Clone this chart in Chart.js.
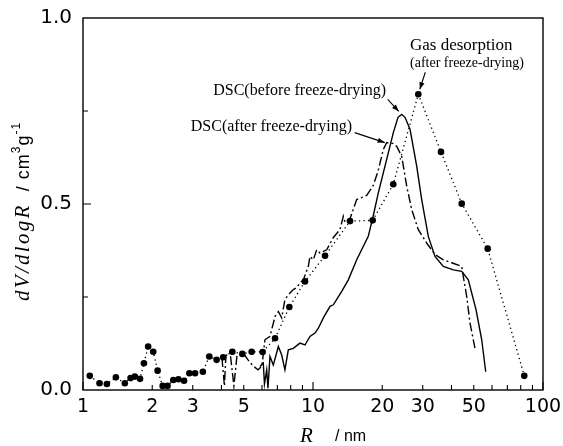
<!DOCTYPE html>
<html><head><meta charset="utf-8">
<script src="https://cdn.jsdelivr.net/npm/chart.js@4.4.0/dist/chart.umd.min.js"></script>
<style>html,body{margin:0;padding:0;background:#fff;}</style>
</head><body>
<canvas id="c" width="563" height="446"></canvas>
<script>
// ---- Data ----
const xTickValues = [1, 2, 3, 5, 10, 20, 30, 50, 100];
const yTickValues = [0.0, 0.5, 1.0];

const gasR = [1.07, 1.18, 1.27, 1.39, 1.52, 1.61, 1.68, 1.77, 1.84, 1.92, 2.02, 2.11, 2.22, 2.33, 2.47, 2.60, 2.75, 2.90, 3.07, 3.32, 3.54, 3.81, 4.07, 4.46, 4.93, 5.41, 6.04, 6.84, 7.89, 9.23, 11.28, 14.49, 18.18, 22.34, 28.70, 36.02, 44.32, 57.48, 82.9];
const gasV = [0.038, 0.018, 0.016, 0.034, 0.018, 0.032, 0.036, 0.030, 0.072, 0.117, 0.103, 0.052, 0.011, 0.011, 0.027, 0.029, 0.025, 0.045, 0.045, 0.049, 0.090, 0.081, 0.088, 0.103, 0.097, 0.103, 0.102, 0.139, 0.223, 0.292, 0.361, 0.454, 0.456, 0.553, 0.795, 0.640, 0.501, 0.380, 0.038];

const beforeR = [5.88, 6.08, 6.15, 6.29, 6.37, 6.50, 6.72, 7.07, 7.31, 7.55, 7.81, 8.21, 8.78, 9.23, 9.70, 10.20, 10.55, 11.09, 11.86, 12.26, 13.33, 14.24, 15.49, 17.39, 18.29, 19.23, 20.56, 22.35, 23.42, 24.31, 25.12, 26.41, 28.24, 29.69, 31.72, 33.92, 36.86, 40.74, 44.32, 47.34, 51.14, 54.15, 56.36];
const beforeV = [0.063, 0.072, 0.016, 0.054, 0.005, 0.090, 0.067, 0.117, 0.094, 0.054, 0.108, 0.112, 0.126, 0.121, 0.144, 0.153, 0.166, 0.194, 0.225, 0.229, 0.265, 0.296, 0.350, 0.413, 0.469, 0.530, 0.602, 0.692, 0.733, 0.741, 0.733, 0.701, 0.602, 0.512, 0.413, 0.359, 0.332, 0.323, 0.319, 0.296, 0.216, 0.135, 0.049];

const afterR = [4.02, 4.12, 4.18, 4.36, 4.53, 4.67, 4.96, 5.22, 5.48, 5.77, 6.00, 6.18, 6.50, 6.84, 7.07, 7.31, 7.55, 7.81, 8.21, 8.49, 8.78, 9.08, 9.54, 9.70, 10.03, 10.38, 10.72, 11.47, 12.26, 13.10, 13.54, 13.78, 14.49, 15.49, 17.12, 18.29, 19.17, 20.22, 20.92, 21.62, 22.27, 23.12, 24.31, 25.55, 26.86, 28.70, 31.22, 33.92, 36.86, 40.09, 44.32, 45.04, 46.60, 48.15, 50.62];
const afterV = [0.086, 0.011, 0.092, 0.102, 0.011, 0.092, 0.100, 0.081, 0.065, 0.054, 0.065, 0.135, 0.144, 0.198, 0.211, 0.194, 0.243, 0.256, 0.270, 0.275, 0.288, 0.296, 0.332, 0.359, 0.350, 0.377, 0.368, 0.377, 0.410, 0.431, 0.467, 0.450, 0.461, 0.512, 0.523, 0.550, 0.588, 0.647, 0.665, 0.663, 0.663, 0.655, 0.628, 0.548, 0.485, 0.431, 0.395, 0.364, 0.350, 0.342, 0.332, 0.305, 0.251, 0.180, 0.112];

const xMinorTicks = [2,3,4,5,6,7,8,9,20,30,40,50,60,70,80,90];
const xMajorTicks = [1,10,100];
const yMinorTicks = [0.25, 0.75];
const yMajorTicks = [0.5];

const toPts = (xs, ys) => xs.map((x, i) => ({x: x, y: ys[i]}));

const SANS = '"Liberation Sans", Arial, sans-serif';
const TICKFONT = '"DejaVu Sans", sans-serif';
const SERIF = '"Liberation Serif", "Times New Roman", serif';

function arrow(ctx, x1, y1, x2, y2) {
  ctx.beginPath(); ctx.moveTo(x1, y1); ctx.lineTo(x2, y2); ctx.stroke();
  const a = Math.atan2(y2 - y1, x2 - x1), L = 7, W = 2.6;
  ctx.beginPath();
  ctx.moveTo(x2, y2);
  ctx.lineTo(x2 - L*Math.cos(a) + W*Math.sin(a), y2 - L*Math.sin(a) - W*Math.cos(a));
  ctx.lineTo(x2 - L*Math.cos(a) - W*Math.sin(a), y2 - L*Math.sin(a) + W*Math.cos(a));
  ctx.closePath(); ctx.fill();
}

const decor = {
  id: 'decor',
  afterDraw(chart) {
    const ctx = chart.ctx, a = chart.chartArea, xs = chart.scales.x, ys = chart.scales.y;
    ctx.save();
    ctx.strokeStyle = '#000'; ctx.fillStyle = '#000';
    ctx.lineWidth = 1.4;
    ctx.strokeRect(a.left, a.top, a.right - a.left, a.bottom - a.top);
    ctx.lineWidth = 1.1;
    ctx.beginPath();
    xMajorTicks.forEach(v => { const p = xs.getPixelForValue(v); ctx.moveTo(p, a.bottom); ctx.lineTo(p, a.bottom - 8); });
    xMinorTicks.forEach(v => { const p = xs.getPixelForValue(v); ctx.moveTo(p, a.bottom); ctx.lineTo(p, a.bottom - 5); });
    yMajorTicks.forEach(v => { const p = ys.getPixelForValue(v); ctx.moveTo(a.left, p); ctx.lineTo(a.left + 8, p); });
    yMinorTicks.forEach(v => { const p = ys.getPixelForValue(v); ctx.moveTo(a.left, p); ctx.lineTo(a.left + 5, p); });
    ctx.stroke();

    // Axis titles
    ctx.textBaseline = 'middle';
    ctx.textAlign = 'left';
    // x title
    ctx.font = 'italic 21px ' + SERIF;
    ctx.fillText('R', 300, 436);
    ctx.font = '16px ' + SANS;
    ctx.fillText('/ nm', 335, 437);
    // y title (rotated)
    ctx.save();
    ctx.translate(23, 301);
    ctx.rotate(-Math.PI/2);
    ctx.font = 'italic 21px ' + SERIF;
    if ('letterSpacing' in ctx) ctx.letterSpacing = '2.3px';
    let t = 'dV/dlogR';
    ctx.fillText(t, 0, 0);
    let off = ctx.measureText(t).width + 12;
    if ('letterSpacing' in ctx) ctx.letterSpacing = '1px';
    ctx.font = '18px ' + SANS;
    ctx.fillText('/ cm', off, 1); off += ctx.measureText('/ cm').width;
    ctx.font = '12px ' + SANS;
    ctx.fillText('3', off, -6); off += ctx.measureText('3').width;
    ctx.font = '18px ' + SANS;
    ctx.fillText('g', off, 1); off += ctx.measureText('g').width;
    ctx.font = '12px ' + SANS;
    ctx.fillText('-1', off, -6);
    if ('letterSpacing' in ctx) ctx.letterSpacing = '0px';
    ctx.restore();

    // Annotations
    ctx.textAlign = 'left';
    ctx.font = '17px ' + SERIF;
    ctx.fillText('Gas desorption', 410, 46);
    ctx.font = '14px ' + SERIF;
    ctx.fillText('(after freeze-drying)', 410, 63);
    ctx.font = '16px ' + SERIF;
    ctx.textAlign = 'right';
    ctx.fillText('DSC(before freeze-drying)', 386, 91);
    ctx.fillText('DSC(after freeze-drying)', 352, 127);

    ctx.lineWidth = 1.1;
    // arrow to gas desorption peak
    const gi = gasV.indexOf(Math.max(...gasV));
    const gx = xs.getPixelForValue(gasR[gi]), gy = ys.getPixelForValue(gasV[gi]);
    arrow(ctx, gx + 7, gy - 22, gx + 1.5, gy - 5);
    // arrow to DSC(before) peak
    const bi = beforeV.indexOf(Math.max(...beforeV));
    const bx = xs.getPixelForValue(beforeR[bi]), by = ys.getPixelForValue(beforeV[bi]);
    arrow(ctx, bx - 14, by - 15, bx - 3, by - 3);
    // arrow to DSC(after) peak
    const ai = afterV.indexOf(Math.max(...afterV));
    const ax = xs.getPixelForValue(afterR[ai]), ay = ys.getPixelForValue(afterV[ai]);
    arrow(ctx, ax - 32, ay - 10, ax - 2, ay);
    ctx.restore();
  }
};

new Chart(document.getElementById('c'), {
  type: 'scatter',
  data: {
    datasets: [
      { label: 'Gas desorption (after freeze-drying)', data: toPts(gasR, gasV), showLine: true,
        borderColor: '#000', borderWidth: 1.3, borderDash: [1.3, 3.2], tension: 0,
        pointRadius: 3.3, pointBackgroundColor: '#000', pointBorderWidth: 0, pointBorderColor: '#000' },
      { label: 'DSC(before freeze-drying)', data: toPts(beforeR, beforeV), showLine: true,
        borderColor: '#000', borderWidth: 1.4, tension: 0, pointRadius: 0 },
      { label: 'DSC(after freeze-drying)', data: toPts(afterR, afterV), showLine: true,
        borderColor: '#000', borderWidth: 1.4, borderDash: [9, 3, 2, 3], tension: 0, pointRadius: 0 }
    ]
  },
  options: {
    responsive: false, animation: false, devicePixelRatio: 1,
    layout: { padding: { left: 0, right: 20, top: 18, bottom: 0 } },
    plugins: { legend: { display: false }, tooltip: { enabled: false } },
    scales: {
      x: {
        type: 'logarithmic', min: 1, max: 100,
        afterBuildTicks: s => { s.ticks = xTickValues.map(v => ({ value: v })); },
        afterFit: s => { s.height = 56; s.paddingLeft = 0; s.paddingRight = 0; },
        ticks: { callback: v => String(v), font: { family: TICKFONT, size: 19 }, color: '#000',
                 padding: 6, autoSkip: false, maxRotation: 0, minRotation: 0 },
        grid: { display: false, drawTicks: false }, border: { display: false }
      },
      y: {
        type: 'linear', min: 0, max: 1,
        afterBuildTicks: s => { s.ticks = yTickValues.map(v => ({ value: v })); },
        afterFit: s => { s.width = 83; s.paddingTop = 0; s.paddingBottom = 0; },
        ticks: { callback: v => Number(v).toFixed(1), font: { family: TICKFONT, size: 20 }, color: '#000', padding: 11 },
        grid: { display: false, drawTicks: false }, border: { display: false }
      }
    }
  },
  plugins: [decor]
});
</script>
</body></html>
